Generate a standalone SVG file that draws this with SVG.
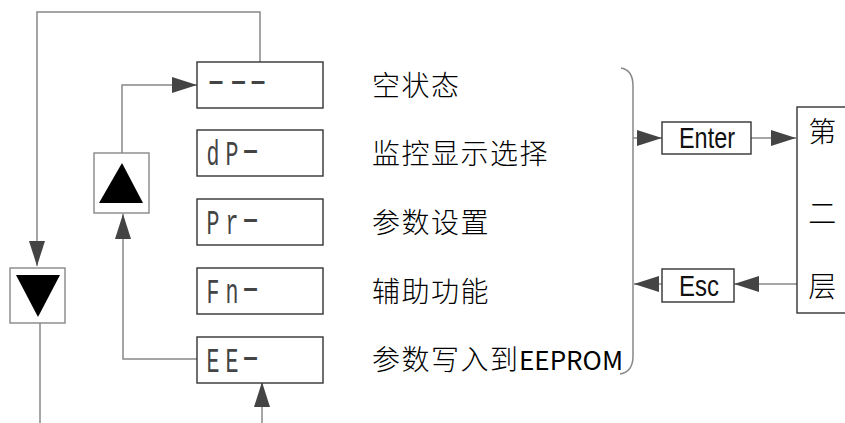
<svg xmlns="http://www.w3.org/2000/svg" width="845" height="423" viewBox="0 0 845 423">
<style>
.box{fill:#fff;stroke:#333;stroke-width:1.4}
.btn{fill:#fff;stroke:#888;stroke-width:1.4}
.tri{fill:#000}
.ln{fill:none;stroke:#888;stroke-width:1.5}
.seg{font-family:"Liberation Mono","Courier New",monospace;font-size:36px;fill:#444}
.cn{font-family:"Noto Sans CJK SC","Noto Sans",sans-serif;font-size:28px;font-weight:300;fill:#000;letter-spacing:1.5px}
.key{font-family:"Liberation Sans",Arial,sans-serif;font-size:30px;fill:#111}
</style>
<defs>
<marker id="ah" markerUnits="userSpaceOnUse" markerWidth="25" markerHeight="16" refX="25" refY="8" orient="auto">
<path d="M0,0 L25,8 L0,16 z" fill="#444"/>
</marker>
</defs>
<g id="connectors">
<path class="ln" d="M260,62 V12 H37 V266" marker-end="url(#ah)"/>
<path class="ln" d="M40,323 V423"/>
<path class="ln" d="M122,153 V85 H197" marker-end="url(#ah)"/>
<path class="ln" d="M197,359 H123 V214" marker-end="url(#ah)"/>
<path class="ln" d="M262,423 V382" marker-end="url(#ah)"/>
<path class="ln" d="M633,138 H662" marker-end="url(#ah)"/>
<path class="ln" d="M751,138 H796" marker-end="url(#ah)"/>
<path class="ln" d="M797,284 H734" marker-end="url(#ah)"/>
<path class="ln" d="M662,284 H634" marker-end="url(#ah)"/>
<path id="bracket" class="ln" d="M621,68 Q633,70 633,86 V356 Q633,372 620,374"/>
</g>
<g id="btn-down">
<rect class="btn" x="10" y="268" width="55" height="55"/>
<polygon class="tri" points="16,275 60,275 38,317"/>
</g>
<g id="btn-up">
<rect class="btn" x="94" y="153" width="55" height="60"/>
<polygon class="tri" points="122,163 143,203 99,203"/>
</g>
<g id="node-empty">
<rect class="box" x="197" y="62" width="126" height="46"/>
<text class="seg" transform="translate(0,92) scale(1.3,1)" x="155.4 172.7 187.7">---</text>
<text class="cn" x="372" y="96">空状态</text>
</g>
<g id="node-dp">
<rect class="box" x="197" y="130" width="126" height="46"/>
<text class="seg" transform="translate(0,164.5) scale(0.6,1)" x="344.2 375.9">dP</text>
<text class="seg" transform="translate(0,160.5) scale(1.3,1)" x="181.9">-</text>
<text class="cn" x="372" y="163.5">监控显示选择</text>
</g>
<g id="node-pr">
<rect class="box" x="197" y="199" width="126" height="46"/>
<text class="seg" transform="translate(0,233.5) scale(0.6,1)" x="344.2 375.9">Pr</text>
<text class="seg" transform="translate(0,229.5) scale(1.3,1)" x="181.9">-</text>
<text class="cn" x="372" y="232.5">参数设置</text>
</g>
<g id="node-fn">
<rect class="box" x="197" y="268" width="126" height="46"/>
<text class="seg" transform="translate(0,302.5) scale(0.6,1)" x="344.2 375.9">Fn</text>
<text class="seg" transform="translate(0,298.5) scale(1.3,1)" x="181.9">-</text>
<text class="cn" x="372" y="301.5">辅助功能</text>
</g>
<g id="node-ee">
<rect class="box" x="197" y="337" width="126" height="46"/>
<text class="seg" transform="translate(0,371.5) scale(0.6,1)" x="344.2 375.9">EE</text>
<text class="seg" transform="translate(0,367.5) scale(1.3,1)" x="181.9">-</text>
<text class="cn" x="372" y="370">参数写入到<tspan x="519" letter-spacing="0" font-weight="400" font-size="26">EEPROM</tspan></text>
</g>
<g id="key-enter">
<rect class="box" x="662" y="122" width="89" height="32"/>
<text class="key" x="679" y="148" textLength="56" lengthAdjust="spacingAndGlyphs">Enter</text>
</g>
<g id="key-esc">
<rect class="box" x="662" y="269" width="72" height="33"/>
<text class="key" x="679" y="296" textLength="40" lengthAdjust="spacingAndGlyphs">Esc</text>
</g>
<g id="layer2">
<rect class="box" x="797" y="107" width="60" height="206"/>
<text class="cn" x="823" y="142" text-anchor="middle" letter-spacing="0">第</text>
<text class="cn" x="823" y="224" text-anchor="middle" letter-spacing="0">二</text>
<text class="cn" x="823" y="297" text-anchor="middle" letter-spacing="0">层</text>
</g>
</svg>
